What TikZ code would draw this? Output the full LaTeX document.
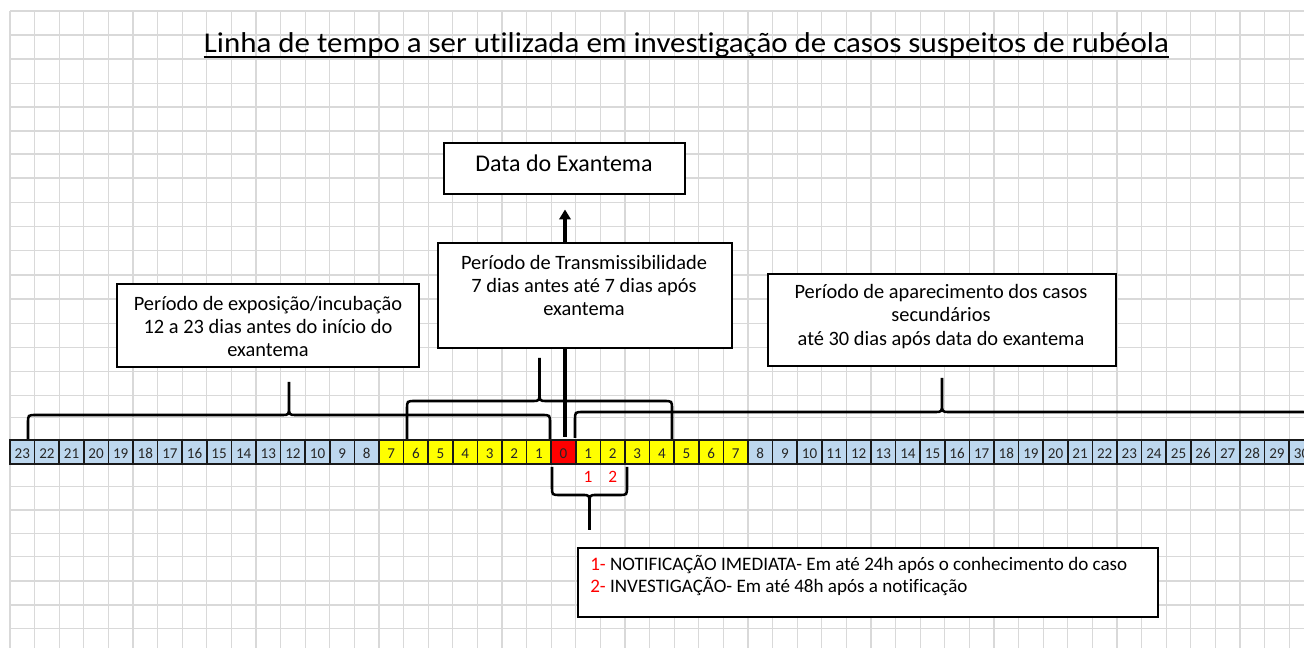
\documentclass[tikz,border=0pt]{standalone}
\usepackage{fontspec}
\setmainfont{Carlito}[Ligatures=NoCommon]
\usetikzlibrary{arrows.meta}
\definecolor{gridc}{HTML}{D9D9D9}
\definecolor{cblue}{HTML}{BDD7EE}
\definecolor{cyel}{HTML}{FFFF00}
\definecolor{cred}{HTML}{FF0000}
\begin{document}
\begin{tikzpicture}[x=0.75pt,y=-0.75pt,
  gridline/.style={draw=gridc,line width=1pt},
  box/.style={draw=black,line width=2.2pt,fill=white,inner sep=0pt},
  txt/.style={inner sep=0pt,align=center,font=\fontsize{15.3}{17.6}\selectfont},
  cell/.style={draw=black!90,line width=1.2pt,minimum width=24.6*0.75pt,minimum height=24*0.75pt,inner sep=0pt,font=\fontsize{11.3}{12}\selectfont,text height=10.5pt,text depth=0pt,text=black!85},
  brace/.style={draw=black,line width=1.9pt},
  heavy/.style={draw=black,line width=3pt},
  redlab/.style={inner sep=0pt,text=red,font=\fontsize{13}{14}\selectfont}]
\useasboundingbox (0,0) rectangle (1304,648);
\fill[white] (0,0) rectangle (1304,648);
% grid
\foreach \k in {0,...,53} \draw[gridline] ({10+24.6*\k},11) -- ({10+24.6*\k},648);
\foreach \y in {11,35,59,83.3,107,131,154,178,202.3,226.7,250.7,275,299,323.3,347.3,371.7,395.7,417.3,440.7,463.3,486.7,510,533.3,556.7,581,605,628.3}
  \draw[gridline] (10,\y) -- (1304,\y);
% title
\node[inner sep=0pt,anchor=base,font=\fontsize{21.5}{25}\selectfont] (title) at (686.5,52.7) {\scalebox{1.08}[1]{Linha de tempo a ser utilizada em investigação de casos suspeitos de rubéola}};
\draw[line width=1.3pt] ([yshift=-3.2pt]title.base west) -- ([yshift=-3.2pt]title.base east);
% braces
\draw[brace] (28,440) -- (28,423) .. controls (28,415) .. (36,415) -- (282,415) .. controls (289,415) .. (289,406) -- (289,382)
  (289,406) .. controls (289,415) .. (296,415) -- (542,415) .. controls (550,415) .. (550,423) -- (550,440);
\draw[brace] (407,440) -- (407,409) .. controls (407,401) .. (415,401) -- (532.5,401) .. controls (539.5,401) .. (539.5,392) -- (539.5,358)
  (539.5,392) .. controls (539.5,401) .. (546.5,401) -- (664,401) .. controls (672,401) .. (672,409) -- (672,440);
\draw[brace] (575,438) -- (575,420) .. controls (575,412) .. (583,412) -- (935,412) .. controls (942,412) .. (942,403) -- (942,378)
  (942,403) .. controls (942,412) .. (949,412) -- (1301,412) .. controls (1309,412) .. (1309,420) -- (1309,438);
\draw[brace] (552,467) -- (552,487) .. controls (552,495) .. (560,495) -- (582.5,495) .. controls (589.5,495) .. (589.5,504) -- (589.5,530)
  (589.5,504) .. controls (589.5,495) .. (596.5,495) -- (619,495) .. controls (627,495) .. (627,487) -- (627,467);
% boxes
\node[box,minimum width=241*0.75pt,minimum height=51*0.75pt] (data) at (564.5,168.5) {};
\node[box,minimum width=294*0.75pt,minimum height=105*0.75pt] (trans) at (585,295.5) {};
\node[box,minimum width=302*0.75pt,minimum height=83*0.75pt] (expo) at (268,325.5) {};
\node[box,minimum width=348*0.75pt,minimum height=92*0.75pt] (sec) at (942,320) {};
\node[box,minimum width=580*0.75pt,minimum height=69*0.75pt] (notif) at (868,582.5) {};
% box texts
\node[txt,font=\fontsize{18}{20}\selectfont] (datat) at (564,163) {Data do Exantema};
\node[txt] (transt) at (584,285.5) {Período de Transmissibilidade\\7 dias antes até 7 dias após\\exantema};
\node[txt] (expot) at (268,326.5) {Período de exposição/incubação\\12 a 23 dias antes do início do\\exantema};
\node[txt] (sect) at (941,316.5) {Período de aparecimento dos casos\\secundários\\até 30 dias após data do exantema};
\node[txt,align=left,anchor=west,font=\fontsize{14.3}{16.5}\selectfont] (notift) at (590,576)
  {{\color{red}1-} NOTIFICAÇÃO IMEDIATA- Em até 24h após o conhecimento do caso\\{\color{red}2-} INVESTIGAÇÃO- Em até 48h após a notificação};
% timeline cells
\foreach \lab/\col [count=\i from 0] in {23/cblue,22/cblue,21/cblue,20/cblue,19/cblue,18/cblue,17/cblue,16/cblue,15/cblue,14/cblue,13/cblue,12/cblue,10/cblue,9/cblue,8/cblue,7/cyel,6/cyel,5/cyel,4/cyel,3/cyel,2/cyel,1/cyel,0/cred,1/cyel,2/cyel,3/cyel,4/cyel,5/cyel,6/cyel,7/cyel,8/cblue,9/cblue,10/cblue,11/cblue,12/cblue,13/cblue,14/cblue,15/cblue,16/cblue,17/cblue,18/cblue,19/cblue,20/cblue,21/cblue,22/cblue,23/cblue,24/cblue,25/cblue,26/cblue,27/cblue,28/cblue,29/cblue,30/cblue}
  \node[cell,fill=\col] (c\i) at ({22.3+24.6*\i},452) {\lab};
% red labels
\node[redlab] (r1) at (c23.center |- 0,477) {1};
\node[redlab] (r2) at (c24.center |- 0,477) {2};
% thick line and arrow
\coordinate (zt) at (565,437);
\draw[heavy] (zt |- trans.south) -- (zt);
\draw[heavy,-{Triangle[length=7.5pt,width=8.5pt]}] (zt |- trans.north) -- ([yshift=-10.5pt]data.south -| zt);
\end{tikzpicture}
\end{document}
